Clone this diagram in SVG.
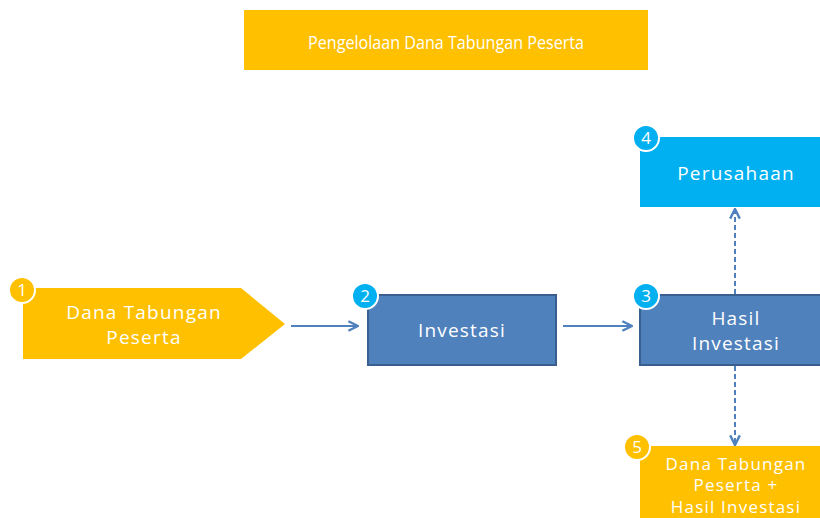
<svg xmlns="http://www.w3.org/2000/svg" width="820" height="518" viewBox="0 0 820 518">
<defs>
<style>
.t{font-family:"Open Sans","Noto Sans","DejaVu Sans",sans-serif;fill:#fff;text-anchor:middle}
.m{font-size:19px;letter-spacing:1.2px}
.blue{fill:#4F81BD;stroke:#3A5F8F;stroke-width:2}
.yel{fill:#FFC000}
.cyan{fill:#00B0F0}
.bdg{stroke:#fff;stroke-width:2}
.bt{font-family:"Open Sans","Noto Sans",sans-serif;font-size:17px;fill:#fff;text-anchor:middle}
.c{stroke:#4F81BD;stroke-width:2;fill:none}
.d{stroke-dasharray:5 3}
</style>
<marker id="ah" viewBox="0 0 10 10" refX="9" refY="5" markerWidth="6" markerHeight="6" orient="auto" markerUnits="strokeWidth">
<path d="M1,1 L9,5 L1,9" fill="none" stroke="#4F81BD" stroke-width="2"/>
</marker>
</defs>
<rect width="820" height="518" fill="#fff"/>
<g id="title">
<rect x="244" y="10" width="404" height="60" class="yel"/>
<text x="446" y="49" class="t" font-size="19" textLength="276" lengthAdjust="spacingAndGlyphs">Pengelolaan Dana Tabungan Peserta</text>
</g>
<g id="connectors">
<line x1="291" y1="326" x2="358" y2="326" class="c" marker-end="url(#ah)"/>
<line x1="563" y1="326" x2="632" y2="326" class="c" marker-end="url(#ah)"/>
<line x1="735" y1="294" x2="735" y2="209" class="c d" marker-end="url(#ah)"/>
<line x1="735" y1="366" x2="735" y2="445" class="c d" marker-end="url(#ah)"/>
</g>
<g id="node1">
<path d="M23,288 L241,288 L285,324 L241,359 L23,359 Z" class="yel"/>
<circle cx="22" cy="290" r="13" class="yel bdg"/>
<text x="22" y="296" class="bt">1</text>
<text x="144" y="319" class="t m">Dana Tabungan</text>
<text x="144" y="344" class="t m">Peserta</text>
</g>
<g id="node2">
<rect x="368" y="295" width="188" height="70" class="blue"/>
<circle cx="365" cy="296" r="13" class="cyan bdg"/>
<text x="365" y="302" class="bt">2</text>
<text x="462" y="337" class="t m">Investasi</text>
</g>
<g id="node3">
<rect x="640" y="295" width="190" height="70" class="blue"/>
<circle cx="646" cy="296" r="13" class="cyan bdg"/>
<text x="646" y="302" class="bt">3</text>
<text x="736" y="325" class="t m">Hasil</text>
<text x="736" y="350" class="t m">Investasi</text>
</g>
<g id="node4">
<rect x="640" y="137" width="190" height="70" class="cyan"/>
<circle cx="646" cy="138" r="13" class="cyan bdg"/>
<text x="646" y="144" class="bt">4</text>
<text x="736" y="180" class="t m">Perusahaan</text>
</g>
<g id="node5">
<rect x="640" y="446" width="190" height="80" class="yel"/>
<circle cx="637" cy="447" r="13" class="yel bdg"/>
<text x="637" y="453" class="bt">5</text>
<g class="t" font-size="17" letter-spacing="1.2">
<text x="736" y="470">Dana Tabungan</text>
<text x="736" y="491">Peserta +</text>
<text x="736" y="513">Hasil Investasi</text>
</g>
</g>
</svg>
